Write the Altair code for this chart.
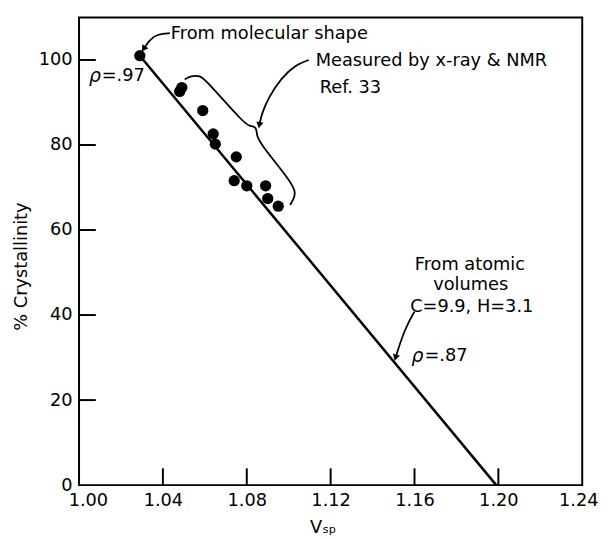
import altair as alt
import pandas as pd

FONT = "DejaVu Sans"

# measured crystallinity points (x-ray & NMR) plus the molecular-shape point
v_sp = [1.029, 1.049, 1.048, 1.059, 1.064, 1.065, 1.075, 1.074, 1.080, 1.089, 1.090, 1.095]
cryst = [101, 93.5, 92.6, 88.1, 82.6, 80.2, 77.2, 71.6, 70.4, 70.4, 67.4, 65.6]

# straight line from molecular shape to atomic-volume intercept
line_x = [1.029, 1.199]
line_y = [101, 0]

# axes
x_label_vals = [1.00, 1.04, 1.08, 1.12, 1.16, 1.20, 1.24]
y_label_vals = [0, 20, 40, 60, 80, 100]
x_inner_ticks = [1.04, 1.08, 1.12, 1.16, 1.20]
y_inner_ticks = [20, 40, 60, 80, 100]

# curly brace around measured points
brace_x = [1.0504, 1.0532, 1.0579, 1.0602, 1.0791, 1.0814, 1.0847, 1.0847, 1.0856, 1.1021, 1.1031, 1.1026, 1.1007]
brace_y = [95.4, 96.3, 96.3, 95.4, 84.9, 84.5, 84.2, 82.6, 80.8, 70.8, 68.7, 67.5, 65.9]

# annotation arrows
arrow_mol_x = [1.0433, 1.0376, 1.0339, 1.0311]
arrow_mol_y = [106.3, 106.1, 104.9, 102.8]
arrow_meas_x = [1.1096, 1.1035, 1.0965, 1.0904, 1.0871, 1.0861]
arrow_meas_y = [100.0, 98.9, 95.8, 91.2, 87.3, 84.9]
arrow_atom_x = [1.1600, 1.1553, 1.1511]
arrow_atom_y = [40.8, 36.7, 30.2]
head_x = [1.0311, 1.0861, 1.1511]
head_y = [102.8, 84.9, 30.2]
head_angle = [214, 191, 198]

# text labels
left_texts = ["From molecular shape", "Measured by x-ray & NMR", "Ref. 33"]
left_x = [1.0438, 1.1129, 1.1148]
left_y = [106.1, 99.8, 93.3]
rho_values = ["=.97", "=.87"]
rho_x = [1.0047, 1.1586]
rho_y = [96.3, 30.4]
center_texts = ["From atomic", "volumes", "C=9.9, H=3.1"]
center_x = [1.1864, 1.1868, 1.1873]
center_y = [51.8, 47.1, 41.8]

xs = alt.Scale(domain=[1.0, 1.24], nice=False, zero=False)
ys = alt.Scale(domain=[0, 110], nice=False, zero=False)

pts = pd.DataFrame({"x": v_sp, "y": cryst})
points = alt.Chart(pts).mark_circle(size=130, color="black", opacity=1).encode(
    x=alt.X("x:Q", scale=xs, axis=alt.Axis(
        values=x_label_vals, format=".2f", title="Vₛₚ", grid=False, ticks=False, domain=False,
        labelFontSize=18, labelFont=FONT, labelColor="black", labelPadding=7,
        labelOffset={"expr": "datum.value < 1.001 ? 9 : (datum.value > 1.239 ? -4 : 0)"},
        labelFlush=False, titleFont=FONT, titleFontSize=18, titleFontWeight="normal",
        titleColor="black", titleX=247, titleY=34, titleBaseline="top", titleAnchor="start",
        titleAlign="center")),
    y=alt.Y("y:Q", scale=ys, axis=alt.Axis(
        values=y_label_vals, title="% Crystallinity", grid=False, ticks=False, domain=False,
        labelFontSize=18, labelFont=FONT, labelColor="black", labelPadding=7,
        labelFlush=False, titleFont=FONT, titleFontSize=18, titleFontWeight="normal",
        titleColor="black", titleX=-58, titleY=252, titleAngle=-90, titleBaseline="middle",
        titleAlign="center", titleAnchor="start")),
)

ldf = pd.DataFrame({"x": line_x, "y": line_y})
line = alt.Chart(ldf).mark_line(color="black", strokeWidth=2.5).encode(
    x=alt.X("x:Q", scale=xs), y=alt.Y("y:Q", scale=ys))

ytk = pd.DataFrame({"y": y_inner_ticks})
ytick_layer = alt.Chart(ytk).mark_rule(color="black", strokeWidth=2).encode(
    y=alt.Y("y:Q", scale=ys), x=alt.value(0), x2=alt.value(17))
xtk = pd.DataFrame({"x": x_inner_ticks})
xtick_layer = alt.Chart(xtk).mark_rule(color="black", strokeWidth=2).encode(
    x=alt.X("x:Q", scale=xs), y=alt.value(474), y2=alt.value(457))

paths = []
for name, px, py in [("brace", brace_x, brace_y), ("mol", arrow_mol_x, arrow_mol_y),
                     ("meas", arrow_meas_x, arrow_meas_y), ("atom", arrow_atom_x, arrow_atom_y)]:
    for i, (a, b) in enumerate(zip(px, py)):
        paths.append({"g": name, "o": i, "x": a, "y": b})
pdf = pd.DataFrame(paths)
path_layer = alt.Chart(pdf).mark_line(color="black", strokeWidth=1.8, interpolate="basis").encode(
    x=alt.X("x:Q", scale=xs), y=alt.Y("y:Q", scale=ys), detail="g:N", order="o:Q")

hdf = pd.DataFrame({"x": head_x, "y": head_y, "a": head_angle})
heads = alt.Chart(hdf).mark_point(shape="triangle", filled=True, color="black", size=55, opacity=1).encode(
    x=alt.X("x:Q", scale=xs), y=alt.Y("y:Q", scale=ys),
    angle=alt.Angle("a:Q", scale=None))

ltdf = pd.DataFrame({"t": left_texts, "x": left_x, "y": left_y})
ltext = alt.Chart(ltdf).mark_text(align="left", baseline="middle", fontSize=18, font=FONT, color="black").encode(
    x=alt.X("x:Q", scale=xs), y=alt.Y("y:Q", scale=ys), text="t:N")

rdf = pd.DataFrame({"t": rho_values, "x": rho_x, "y": rho_y, "r": ["ρ", "ρ"]})
rho_sym = alt.Chart(rdf).mark_text(align="left", baseline="middle", fontSize=19, font=FONT,
                                   fontStyle="italic", color="black").encode(
    x=alt.X("x:Q", scale=xs), y=alt.Y("y:Q", scale=ys), text="r:N")
rho_val = alt.Chart(rdf).mark_text(align="left", baseline="middle", fontSize=18, font=FONT,
                                   color="black", dx=13).encode(
    x=alt.X("x:Q", scale=xs), y=alt.Y("y:Q", scale=ys), text="t:N")

ctdf = pd.DataFrame({"t": center_texts, "x": center_x, "y": center_y})
ctext = alt.Chart(ctdf).mark_text(align="center", baseline="middle", fontSize=18, font=FONT, color="black").encode(
    x=alt.X("x:Q", scale=xs), y=alt.Y("y:Q", scale=ys), text="t:N")

chart = alt.layer(points, line, ytick_layer, xtick_layer, path_layer, heads, ltext,
                  rho_sym, rho_val, ctext).properties(
    width=510, height=474,
    autosize=alt.AutoSizeParams(type="none"),
    padding={"left": 72, "top": 6, "right": 17, "bottom": 48},
    background="white",
).configure_view(stroke="black", strokeWidth=2)

chart.save("out.html", embed_options={"renderer": "svg", "actions": False})
